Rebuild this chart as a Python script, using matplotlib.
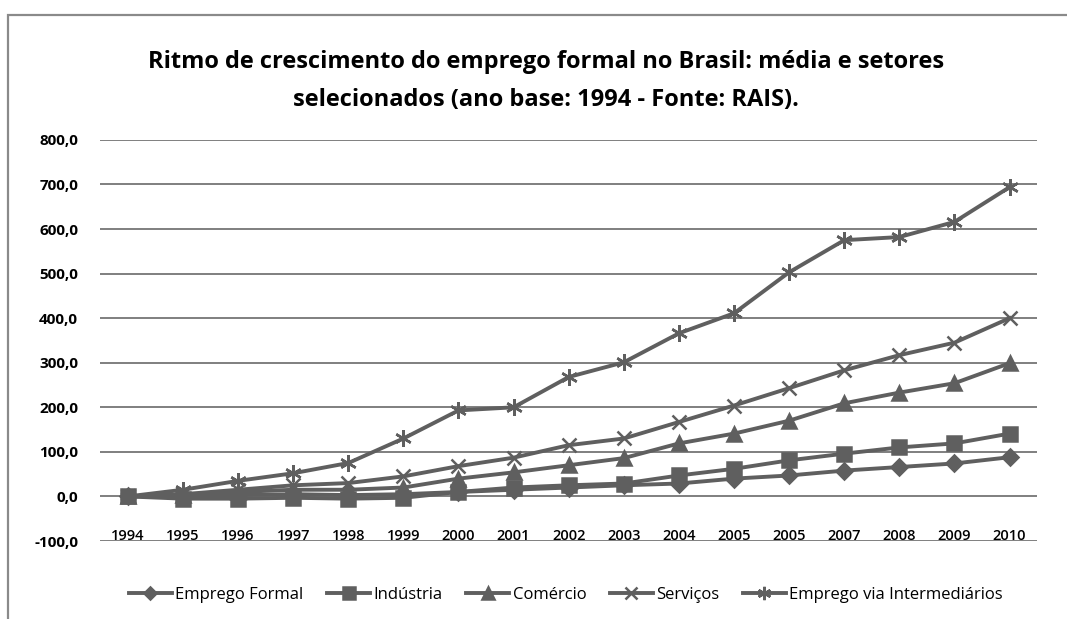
import matplotlib.pyplot as plt
from matplotlib.patches import Rectangle
from matplotlib.ticker import FuncFormatter

# dados (ano base 1994 = 0)
anos = ['1994', '1995', '1996', '1997', '1998', '1999', '2000', '2001', '2002',
        '2003', '2004', '2005', '2005', '2007', '2008', '2009', '2010']
emprego_formal = [0, 2, 3, 5, 3, 5, 10, 15, 20, 25, 29, 40, 47, 58, 66, 74, 88]
industria = [0, -5, -5, -3, -5, -3, 10, 20, 25, 29, 47, 62, 81, 96, 110, 119, 141]
comercio = [0, 3, 10, 15, 15, 20, 40, 54, 70, 86, 119, 141, 170, 209, 233, 254, 299]
servicos = [0, 5, 15, 25, 30, 45, 68, 87, 115, 130, 167, 204, 243, 283, 317, 345, 400]
intermediarios = [0, 15, 35, 52, 75, 130, 193, 200, 268, 301, 366, 411, 503, 575, 582, 616, 694]

series = [
    ('Emprego Formal', emprego_formal, 'D', 8),
    ('Indústria', industria, 's', 10),
    ('Comércio', comercio, '^', 10),
    ('Serviços', servicos, 'x', 10),
    ('Emprego via Intermediários', intermediarios, (6, 2, 0), 12),
]

plt.rcParams['font.family'] = ['Open Sans', 'DejaVu Sans']

fig = plt.figure(figsize=(10.67, 6.19), dpi=100)
ax = fig.add_axes([0.094, 0.126, 0.878, 0.648])

cor = '#5f5f5f'
x = list(range(len(anos)))
for nome, vals, mk, ms in series:
    ax.plot(x, vals, color=cor, lw=2.8, marker=mk, markersize=ms,
            markeredgewidth=1.8, markeredgecolor=cor, markerfacecolor=cor,
            label=nome)

ax.set_xlim(-0.5, len(anos) - 0.5)
ax.set_ylim(-100, 800)
ax.set_yticks(range(-100, 801, 100))
ax.yaxis.set_major_formatter(FuncFormatter(lambda v, p: f'{v:.1f}'.replace('.', ',')))
ax.set_xticks(x)
ax.set_xticklabels(anos)

ax.grid(axis='y', color='#7f7f7f', lw=1.4)
ax.set_axisbelow(True)
for s in ax.spines.values():
    s.set_visible(False)
ax.tick_params(axis='both', length=0)
ax.tick_params(axis='y', labelsize=11, pad=16)
ax.tick_params(axis='x', labelsize=10.5, pad=-9)
for t in ax.get_yticklabels():
    t.set_fontweight('bold')
for t in ax.get_xticklabels():
    t.set_fontweight('semibold')

fig.suptitle('Ritmo de crescimento do emprego formal no Brasil: média e setores\n'
             'selecionados (ano base: 1994 - Fonte: RAIS).',
             x=0.512, y=0.92, fontsize=17, fontweight='bold', linespacing=1.8)

ax.legend(loc='upper center', bbox_to_anchor=(0.497, -0.078), ncol=5, frameon=False,
          fontsize=12, handlelength=2.6, handletextpad=0.2, columnspacing=1.4,
          markerscale=0.8)

# moldura do grafico
fig.patches.append(Rectangle((8 / 1067, -0.1), 1.2, 1 - 15 / 619 + 0.1,
                             transform=fig.transFigure, fill=False,
                             edgecolor='#8a8a8a', lw=1.6))

fig.savefig('out.png', dpi=100)
